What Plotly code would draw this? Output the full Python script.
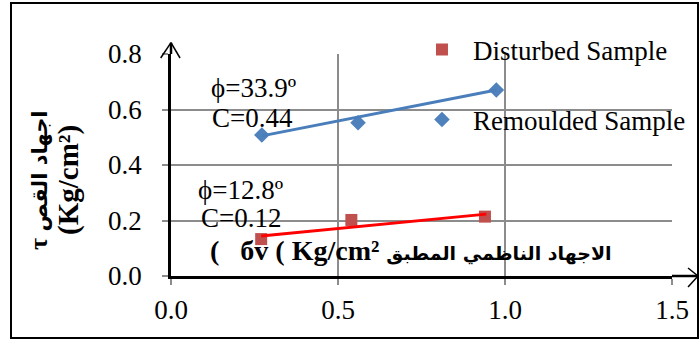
import plotly.graph_objects as go

# ---- data ----
disturbed_x = [0.27, 0.54, 0.94]
disturbed_y = [0.133, 0.202, 0.214]
remoulded_x = [0.272, 0.56, 0.974]
remoulded_y = [0.508, 0.552, 0.670]

# linear trend lines (end points)
disturbed_trend_x = [0.27, 0.944]
disturbed_trend_y = [0.144, 0.223]
remoulded_trend_x = [0.272, 0.974]
remoulded_trend_y = [0.505, 0.670]

x_ticks = [0.0, 0.5, 1.0, 1.5]
x_tick_labels = ["0.0", "0.5", "1.0", "1.5"]
y_ticks = [0.0, 0.2, 0.4, 0.6, 0.8]
y_tick_labels = ["0.0", "0.2", "0.4", "0.6", "0.8"]

series_names = ["Disturbed Sample", "Remoulded Sample"]

SERIF = "Liberation Serif, Times New Roman, DejaVu Serif, serif"
SERIF_B = "Liberation Serif, DejaVu Sans, serif"
GRID = "#8C8C8C"

fig = go.Figure()

fig.add_trace(go.Scatter(
    x=disturbed_x, y=disturbed_y, mode="markers", name=series_names[0],
    marker=dict(symbol="square", size=12, color="#C0504D"),
    legend="legend", cliponaxis=False))
fig.add_trace(go.Scatter(
    x=remoulded_x, y=remoulded_y, mode="markers", name=series_names[1],
    marker=dict(symbol="diamond", size=12, color="#4F81BD"),
    legend="legend2", cliponaxis=False))
fig.add_trace(go.Scatter(
    x=disturbed_trend_x, y=disturbed_trend_y, mode="lines", showlegend=False,
    line=dict(color="#FF0000", width=3)))
fig.add_trace(go.Scatter(
    x=remoulded_trend_x, y=remoulded_trend_y, mode="lines", showlegend=False,
    line=dict(color="#4A7EBB", width=3)))

axis_common = dict(
    showgrid=True, gridcolor=GRID, gridwidth=2,
    showline=True, linecolor="black", linewidth=2.5,
    ticks="outside", ticklen=6, tickwidth=2, tickcolor=GRID,
    zeroline=False, automargin=False,
    tickfont=dict(family=SERIF, size=27, color="black"),
)

fig.update_xaxes(range=[0, 1.5], tickvals=x_ticks, ticktext=x_tick_labels,
                 ticklabelstandoff=2, **axis_common)
fig.update_yaxes(range=[0, 0.8], tickvals=y_ticks, ticktext=y_tick_labels,
                 ticklabelstandoff=15, **axis_common)

legend_common = dict(
    bgcolor="rgba(0,0,0,0)", borderwidth=0, itemwidth=52,
    font=dict(family=SERIF, size=27, color="black"),
    xanchor="left", yanchor="middle")

fig.update_layout(
    width=700, height=340,
    margin=dict(l=171, r=28, t=54, b=64, autoexpand=False),
    paper_bgcolor="white", plot_bgcolor="white",
    legend=dict(x=0.479, y=1.018, **legend_common),
    legend2=dict(x=0.479, y=0.703, **legend_common),
)

ann_font = dict(family=SERIF, size=27, color="black")
annotations = [
    dict(text="ϕ=33.9º", x=0.2455, y=0.6775),
    dict(text="C=0.44", x=0.2425, y=0.5694),
    dict(text="ϕ=12.8º", x=0.2086, y=0.3099),
    dict(text="C=0.12", x=0.2096, y=0.209),
]
for a in annotations:
    fig.add_annotation(xref="x", yref="y", showarrow=False,
                       xanchor="center", yanchor="middle", font=ann_font, **a)

AR = '<span style="font-family:DejaVu Sans;font-size:19px">'
# x-axis title (placed inside the plot as in the reference)
fig.add_annotation(
    xref="x", yref="y", x=(208 - 171) / 334, y=0.0937, xanchor="left", yanchor="middle",
    showarrow=False,
    text="<b>(\u00a0\u00a0\u00a0бv ( Kg/cm² " + AR + "الاجهاد الناظمي المطبق</span></b>",
    font=dict(family=SERIF_B, size=28, color="black"))

# y-axis title (two rotated lines)
AR2 = '<span style="font-family:DejaVu Sans;font-size:21px">'
fig.add_annotation(
    xref="paper", yref="paper", x=(38 - 171) / 501, y=(276 - 180) / 222,
    xanchor="center", yanchor="middle", showarrow=False, textangle=-90,
    text="<b>τ " + AR2 + "اجهاد القص</span></b>",
    font=dict(family=SERIF_B, size=26, color="black"))
fig.add_annotation(
    xref="paper", yref="paper", x=(68 - 171) / 501, y=(276 - 180) / 222,
    xanchor="center", yanchor="middle", showarrow=False, textangle=-90,
    text="<b>(Kg/cm²)</b>",
    font=dict(family=SERIF_B, size=29, color="black"))

# axis arrow extensions and outer frame
line_k = dict(color="black", width=2.5)
thin_k = dict(color="black", width=1.5)
shapes = [
    dict(type="line", xref="paper", yref="paper", x0=0, y0=1.0, x1=0, y1=1.051, line=line_k),
    dict(type="line", xref="paper", yref="paper", x0=-0.0206, y0=0.982, x1=0, y1=1.051, line=thin_k),
    dict(type="line", xref="paper", yref="paper", x0=0.018, y0=0.982, x1=0, y1=1.051, line=thin_k),
    dict(type="line", xref="paper", yref="paper", x0=1.0, y0=0, x1=1.052, y1=0, line=line_k),
    dict(type="line", xref="paper", yref="paper", x0=1.032, y0=0.036, x1=1.052, y1=0, line=thin_k),
    dict(type="line", xref="paper", yref="paper", x0=1.032, y0=-0.0495, x1=1.052, y1=0, line=thin_k),
    dict(type="rect", xref="paper", yref="paper",
         x0=(11 - 171) / 501, x1=(698 - 171) / 501,
         y0=(276 - 338) / 222, y1=(276 - 3) / 222,
         line=dict(color="black", width=2), fillcolor="rgba(0,0,0,0)", layer="above"),
]
fig.update_layout(shapes=shapes)

fig.write_html("out.html")
